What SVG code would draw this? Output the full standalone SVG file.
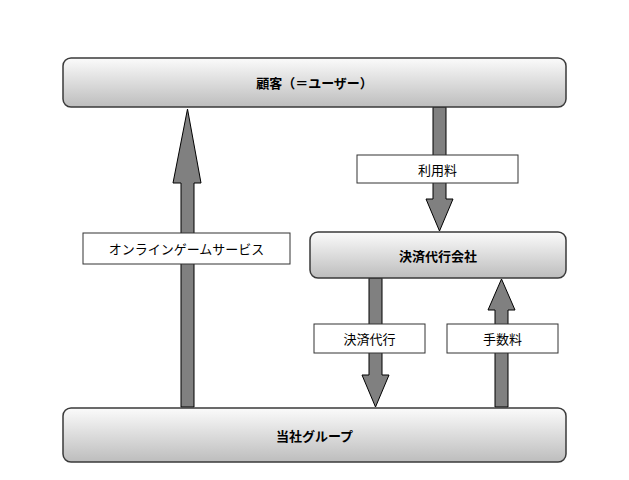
<svg xmlns="http://www.w3.org/2000/svg" width="629" height="480" viewBox="0 0 629 480">
<defs>
<linearGradient id="g" x1="0" y1="0" x2="0" y2="1">
<stop offset="0" stop-color="#fbfbfb"/>
<stop offset="1" stop-color="#bdbdbd"/>
</linearGradient>
</defs>
<style>
.node{fill:url(#g);stroke:#3a3a3a;stroke-width:1.5}
.arr{fill:#808080;stroke:#000;stroke-width:1}
.lbl{fill:#fff;stroke:#333;stroke-width:1}
text{font-family:"Noto Sans CJK JP","Noto Sans",sans-serif;font-size:13px;fill:#000;text-anchor:middle;dominant-baseline:central}
.b{font-weight:bold}
</style>
<rect width="629" height="480" fill="#fff"/>
<g id="connectors">
<path class="arr" d="M181,407 V183 H173 L187.5,109 L201,183 H194 V407 Z"/>
<path class="arr" d="M433,107 V199 H426 L439.5,231 L453,199 H446 V107 Z"/>
<path class="arr" d="M369,278 V375 H362 L375.5,407 L389,375 H382 V278 Z"/>
<path class="arr" d="M495,407 V310 H488 L501.5,279 L515,310 H508 V407 Z"/>
<g id="lbl-service"><rect class="lbl" x="83" y="233" width="207" height="31"/><text x="186.5" y="248.5">オンラインゲームサービス</text></g>
<g id="lbl-fee"><rect class="lbl" x="357" y="155" width="161" height="28"/><text x="437.5" y="169">利用料</text></g>
<g id="lbl-settle"><rect class="lbl" x="314" y="324" width="111" height="29"/><text x="369.5" y="338.5">決済代行</text></g>
<g id="lbl-commission"><rect class="lbl" x="447" y="324" width="111" height="29"/><text x="502.5" y="338.5">手数料</text></g>
</g>
<g id="customer"><rect class="node" x="63" y="58" width="503" height="49" rx="8"/><text class="b" x="314.5" y="82">顧客（＝ユーザー）</text></g>
<g id="payment"><rect class="node" x="310" y="232" width="256" height="46" rx="8"/><text class="b" x="438" y="255">決済代行会社</text></g>
<g id="group"><rect class="node" x="63" y="408" width="503" height="54" rx="8"/><text class="b" x="314.5" y="435">当社グループ</text></g>
</svg>
